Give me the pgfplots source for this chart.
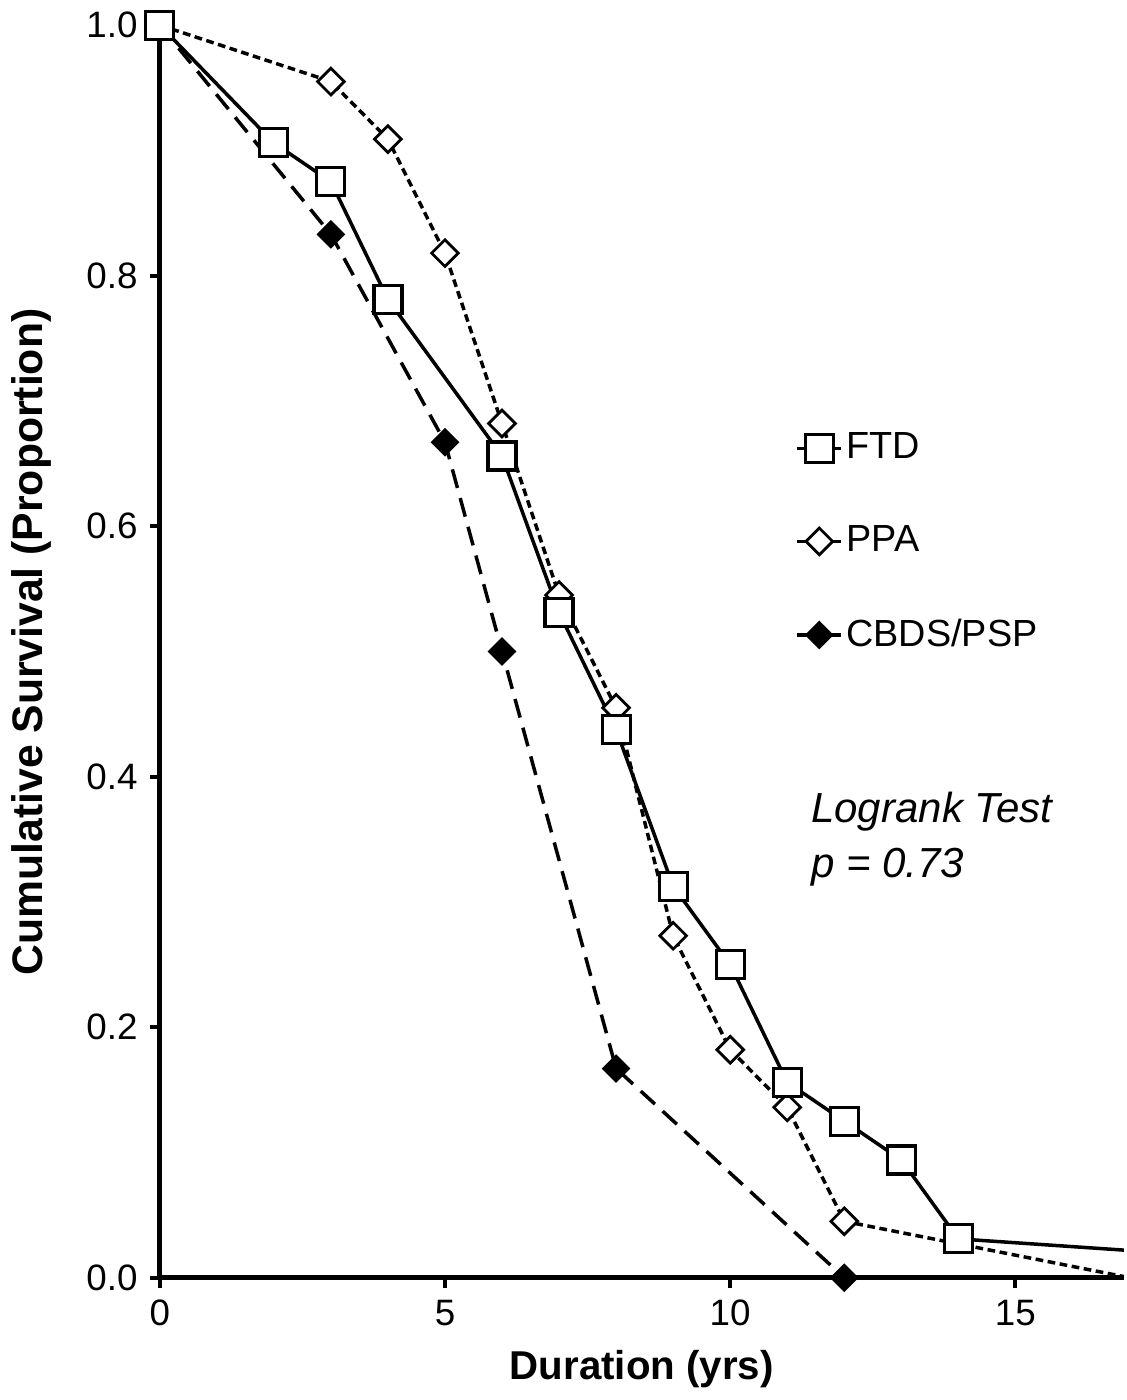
\documentclass[border=0pt]{standalone}
\usepackage{fontspec}
\setmainfont{Liberation Sans}
\usepackage{pgfplots}
\pgfplotsset{compat=1.18}

\pgfplotsset{
  ftd/.style={black, line width=1pt, solid, mark=square*, mark size=4pt,
    mark options={fill=white, solid, line width=0.9pt}},
  ppa/.style={black, line width=1pt, dash pattern=on 2.2pt off 1.3pt, mark=square*, mark size=2.7pt,
    mark options={fill=white, solid, rotate=45, line width=0.8pt}},
  cbds/.style={black, line width=1pt, dash pattern=on 5.5pt off 3pt, mark=square*, mark size=2.4pt,
    mark options={fill=black, solid, rotate=45}},
}

\begin{document}
\begin{tikzpicture}
\begin{axis}[
  name=ax,
  scale only axis,
  width=9.68cm, height=12.64cm,
  xmin=0, xmax=16.9, ymin=0, ymax=1.005,
  axis lines=left,
  axis line style={line width=1.4pt, -},
  xtick={0,5,10,15},
  ytick={0,0.2,0.4,0.6,0.8,1.0},
  tick align=outside,
  major tick length=1mm,
  tick style={black, line width=1.2pt},
  /pgf/number format/assume math mode=true,
  yticklabel style={/pgf/number format/.cd, fixed, fixed zerofill, precision=1},
  tick label style={font=\fontsize{10.5}{12}\selectfont},
  xlabel={\fontsize{11.5}{13}\selectfont\bfseries Duration (yrs)},
  ylabel={\fontsize{12.2}{14}\selectfont\bfseries Cumulative Survival (Proportion)},
  xlabel style={at={(axis description cs:0.5,-0.073)}, anchor=center},
  ylabel style={at={(axis description cs:-0.133,0.505)}, anchor=center},
  legend style={at={(axis description cs:0.648,0.68)}, anchor=north west,
    draw=none, fill=none, font=\fontsize{10.8}{12}\selectfont, row sep=15.6pt,
    nodes={inner sep=1pt}},
  legend cell align=left,
  legend image code/.code={\draw[mark repeat=2, mark phase=2, #1, solid]
    plot coordinates {(0cm,0cm) (0.22cm,0cm) (0.44cm,0cm)};},
]
\addlegendimage{ftd}\addlegendentry{FTD}
\addlegendimage{ppa}\addlegendentry{PPA}
\addlegendimage{cbds}\addlegendentry{CBDS/PSP}

% CBDS/PSP
\addplot[cbds, forget plot] coordinates {
(0,1.0) (3,0.833) (5,0.667) (6,0.5) (8,0.167) (12,0.0) };

% PPA
\addplot[ppa, no markers, forget plot] coordinates {
(0,1.0) (3,0.955) (4,0.909) (5,0.818) (6,0.682) (7,0.545) (8,0.455)
(9,0.273) (10,0.182) (11,0.136) (12,0.045) (17,0.0) };
\addplot[ppa, only marks, forget plot] coordinates {
(0,1.0) (3,0.955) (4,0.909) (5,0.818) (6,0.682) (7,0.545) (8,0.455)
(9,0.273) (10,0.182) (11,0.136) (12,0.045) };

% FTD
\addplot[ftd, no markers, forget plot] coordinates {
(0,1.0) (2,0.906) (3,0.875) (4,0.781) (6,0.656) (7,0.531) (8,0.4375)
(9,0.3125) (10,0.25) (11,0.156) (12,0.125) (13,0.094) (14,0.031) (24,0.0) };
\addplot[ftd, only marks, forget plot] coordinates {
(0,1.0) (2,0.906) (3,0.875) (4,0.781) (6,0.656) (7,0.531) (8,0.4375)
(9,0.3125) (10,0.25) (11,0.156) (12,0.125) (13,0.094) (14,0.031) };

\node[anchor=base west, font=\fontsize{12}{14}\selectfont\itshape]
  at (axis description cs:0.663,0.362) {Logrank Test};
\node[anchor=base west, font=\fontsize{12}{14}\selectfont\itshape]
  at (axis description cs:0.663,0.318) {p = 0.73};
\end{axis}
\path (ax.south west) ++(-1.58cm,-1.17cm) coordinate (bb1);
\path (ax.north east) ++(0,0.19cm) coordinate (bb2);
\path (bb1) rectangle (bb2);
\end{tikzpicture}
\end{document}
